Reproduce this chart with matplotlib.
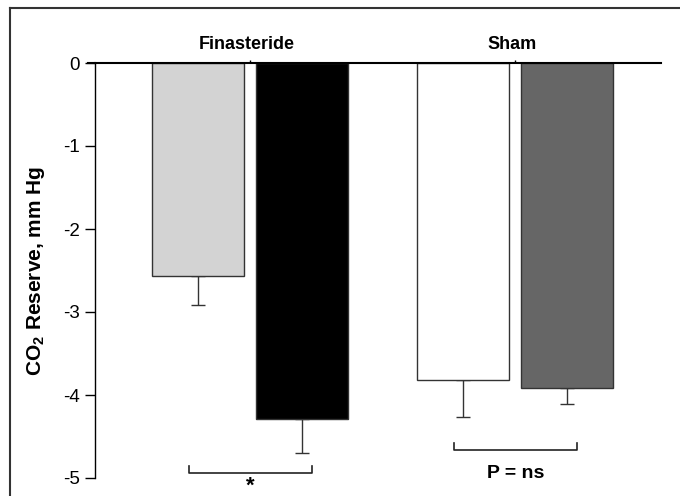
import numpy as np
import matplotlib.pyplot as plt
from matplotlib.lines import Line2D

plt.rcParams['font.family'] = ['Liberation Sans', 'DejaVu Sans']
plt.rcParams['mathtext.fontset'] = 'custom'
plt.rcParams['mathtext.rm'] = 'Liberation Sans'
plt.rcParams['mathtext.bf'] = 'Liberation Sans:bold'

# data
groups = ['Finasteride', 'Sham']
values = [-2.57, -4.29, -3.82, -3.92]
errors = [0.35, 0.41, 0.45, 0.19]
colors = ['#d3d3d3', '#000000', '#ffffff', '#666666']
xpos = [0, 1, 2.55, 3.55]
yticks = [0, -1, -2, -3, -4, -5]
signif = [r'$\mathbf{*}$', 'P = ns']

fig = plt.figure(figsize=(6.8, 4.96), dpi=100)
ax = fig.add_axes([95/680, 1-478/496, 566/680, 415/496])

ax.bar(xpos, values, width=0.885, color=colors, edgecolor='#333333', linewidth=1, zorder=2)
ax.errorbar(xpos, values, yerr=[errors, [0]*4], fmt='none', ecolor='#333333',
            elinewidth=1, capsize=5, capthick=1, zorder=1)

ax.set_xlim(-0.99, 4.45)
ax.set_ylim(-5, 0)
ax.set_yticks(yticks)
ax.set_yticklabels([str(t) for t in yticks], fontsize=13.5)
ax.tick_params(axis='y', direction='out', length=7, width=1, pad=4)

# group centres as small ticks on the zero line
centres = [(xpos[0]+xpos[1])/2, (xpos[2]+xpos[3])/2]
ax.xaxis.tick_top()
ax.set_xticks(centres)
ax.set_xticklabels([])
ax.tick_params(axis='x', direction='out', length=2, width=1)
for c, g in zip(centres, groups):
    ax.text(c - 0.03, 0.22, g, ha='center', va='center', fontsize=13, fontweight='bold')

for s in ['right', 'bottom']:
    ax.spines[s].set_visible(False)
ax.spines['left'].set_linewidth(1)
ax.spines['top'].set_linewidth(1.5)
# zero line runs out to the tick
ax.plot([-1.06, -0.99], [0, 0], color='black', lw=1.5, clip_on=False)

ax.set_ylabel(r'CO$_\mathbf{2}$ Reserve, mm Hg', fontsize=15, fontweight='bold')
ax.yaxis.set_label_coords(-0.085, 0.5)

# brackets
ax.plot([xpos[0]-0.087, xpos[0]-0.087, xpos[1]+0.096, xpos[1]+0.096],
        [-4.855, -4.94, -4.94, -4.855], color='#222222', lw=1.2, clip_on=False)
ax.text((xpos[0]+xpos[1])/2, -5.15, signif[0], ha='center', va='baseline',
        fontsize=16, fontweight='bold')
ax.plot([xpos[2]-0.09, xpos[2]-0.09, xpos[3]+0.094, xpos[3]+0.094],
        [-4.575, -4.66, -4.66, -4.575], color='#222222', lw=1.2, clip_on=False)
ax.text((xpos[2]+xpos[3])/2, -4.94, signif[1], ha='center', va='center',
        fontsize=14, fontweight='bold')

# frame around the figure (top and left edges only visible)
fig.add_artist(Line2D([10/680, 1], [1-7.5/496, 1-7.5/496], color='#333333', lw=1.5))
fig.add_artist(Line2D([10/680, 10/680], [0, 1-7.5/496], color='#333333', lw=1.5))

fig.savefig('out.png', dpi=100)
